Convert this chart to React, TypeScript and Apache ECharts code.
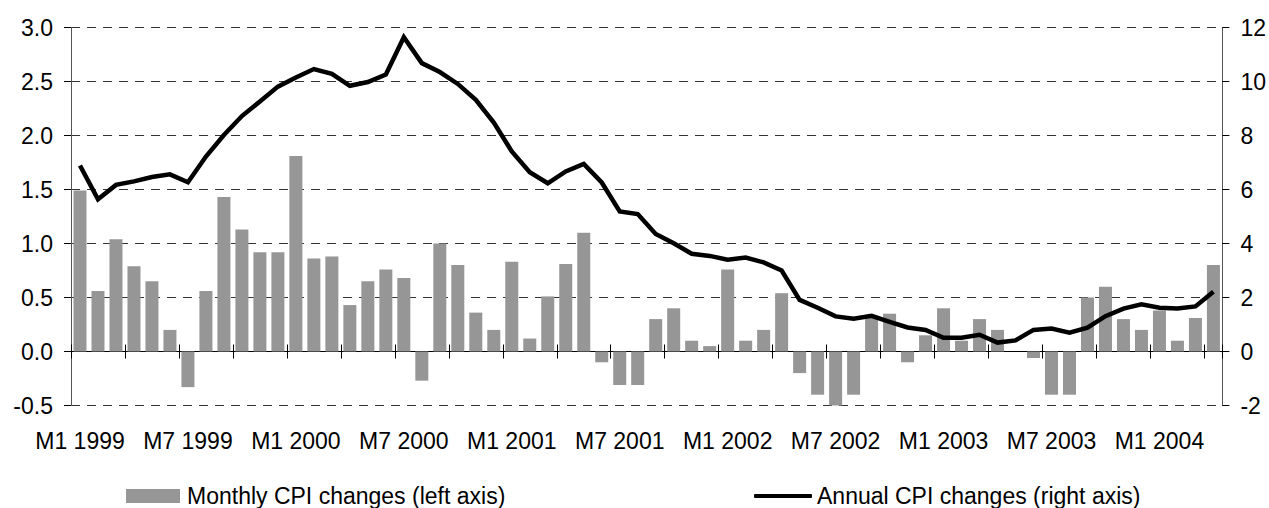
import React, { useEffect, useRef } from "react";
import * as echarts from "echarts";

const months: string[] = [
  "M1 1999", "M2 1999", "M3 1999", "M4 1999", "M5 1999", "M6 1999", "M7 1999", "M8 1999", "M9 1999", "M10 1999", "M11 1999", "M12 1999",
  "M1 2000", "M2 2000", "M3 2000", "M4 2000", "M5 2000", "M6 2000", "M7 2000", "M8 2000", "M9 2000", "M10 2000", "M11 2000", "M12 2000",
  "M1 2001", "M2 2001", "M3 2001", "M4 2001", "M5 2001", "M6 2001", "M7 2001", "M8 2001", "M9 2001", "M10 2001", "M11 2001", "M12 2001",
  "M1 2002", "M2 2002", "M3 2002", "M4 2002", "M5 2002", "M6 2002", "M7 2002", "M8 2002", "M9 2002", "M10 2002", "M11 2002", "M12 2002",
  "M1 2003", "M2 2003", "M3 2003", "M4 2003", "M5 2003", "M6 2003", "M7 2003", "M8 2003", "M9 2003", "M10 2003", "M11 2003", "M12 2003",
  "M1 2004", "M2 2004", "M3 2004", "M4 2004",
];

const monthlyCPI: number[] = [
  1.49, 0.56, 1.04, 0.79, 0.65, 0.2, -0.33, 0.56, 1.43, 1.13, 0.92, 0.92,
  1.81, 0.86, 0.88, 0.43, 0.65, 0.76, 0.68, -0.27, 1.0, 0.8, 0.36, 0.2,
  0.83, 0.12, 0.51, 0.81, 1.1, -0.1, -0.31, -0.31, 0.3, 0.4, 0.1, 0.05,
  0.76, 0.1, 0.2, 0.54, -0.2, -0.4, -0.5, -0.4, 0.33, 0.35, -0.1, 0.15,
  0.4, 0.1, 0.3, 0.2, 0.0, -0.06, -0.4, -0.4, 0.5, 0.6, 0.3, 0.2,
  0.38, 0.1, 0.31, 0.8,
];

const annualCPI: number[] = [
  6.89, 5.64, 6.17, 6.3, 6.46, 6.56, 6.27, 7.22, 8.02, 8.72, 9.26, 9.81,
  10.15, 10.46, 10.28, 9.84, 9.98, 10.26, 11.64, 10.68, 10.35, 9.91, 9.32, 8.48,
  7.41, 6.64, 6.23, 6.67, 6.95, 6.26, 5.19, 5.09, 4.35, 4.01, 3.62, 3.54,
  3.4, 3.48, 3.3, 3.0, 1.91, 1.62, 1.3, 1.21, 1.32, 1.1, 0.89, 0.8,
  0.51, 0.51, 0.62, 0.33, 0.41, 0.8, 0.85, 0.7, 0.88, 1.31, 1.59, 1.75,
  1.62, 1.59, 1.67, 2.21,
];

const seriesNames: string[] = [
  "Monthly CPI changes (left axis)",
  "Annual CPI changes (right axis)",
];

const FONT = "'Liberation Sans', Arial, sans-serif";
const FS = 23;

export default function App() {
  const ref = useRef<HTMLDivElement>(null);

  useEffect(() => {
    if (!ref.current) return;
    const chart = echarts.init(ref.current, undefined, { renderer: "svg" });
    const gridLine = { show: true, lineStyle: { color: "#333", width: 1, type: [9, 7] as any } };
    const hiddenX = {
      type: "category",
      data: months,
      boundaryGap: true,
      axisLabel: { show: false },
      splitLine: { show: false },
    };
    chart.setOption({
      animation: false,
      textStyle: { fontFamily: FONT, color: "#000" },
      grid: { left: 71, right: 46, top: 27.5, bottom: 102.5, containLabel: false },
      legend: [
        {
          data: [seriesNames[0]],
          left: 126,
          top: 484.5,
          padding: 0,
          itemWidth: 54,
          itemHeight: 14,
          icon: "rect",
          textStyle: { fontFamily: FONT, fontSize: FS, color: "#000", padding: [0, 0, 0, 2] },
        },
        {
          data: [seriesNames[1]],
          left: 754,
          top: 484.5,
          padding: 0,
          itemWidth: 58,
          itemHeight: 4,
          icon: "roundRect",
          itemStyle: { color: "#000" },
          textStyle: { fontFamily: FONT, fontSize: FS, color: "#000", padding: [0, 0, 0, 0] },
        },
      ],
      xAxis: [
        {
          type: "category",
          data: months,
          boundaryGap: true,
          position: "bottom",
          axisLine: { show: false, onZero: false },
          axisTick: { show: false },
          axisLabel: {
            interval: (i: number) => i % 6 === 0,
            margin: 24,
            fontFamily: FONT,
            fontSize: FS,
            color: "#000",
            hideOverlap: false,
          },
          splitLine: { show: false },
        },
        {
          ...hiddenX,
          axisLine: { show: true, onZero: true, lineStyle: { color: "#000", width: 1 } },
          axisTick: { show: true, interval: 2, length: 7, inside: false, lineStyle: { color: "#000" } },
        },
        {
          ...hiddenX,
          axisLine: { show: false, onZero: true },
          axisTick: { show: true, interval: 2, length: 7, inside: true, lineStyle: { color: "#000" } },
        },
      ],
      yAxis: [
        {
          type: "value",
          min: -0.5,
          max: 3,
          interval: 0.5,
          position: "left",
          axisLine: { show: true, lineStyle: { color: "#555", width: 1 } },
          axisTick: { show: true, length: 7, lineStyle: { color: "#000" } },
          axisLabel: {
            margin: 18,
            fontFamily: FONT,
            fontSize: FS,
            color: "#000",
            formatter: (v: number) => v.toFixed(1),
          },
          splitLine: gridLine,
        },
        {
          type: "value",
          min: -2,
          max: 12,
          interval: 2,
          position: "right",
          axisLine: { show: true, lineStyle: { color: "#555", width: 1 } },
          axisTick: { show: true, length: 7, lineStyle: { color: "#000" } },
          axisLabel: { margin: 18, fontFamily: FONT, fontSize: FS, color: "#000" },
          splitLine: { show: false },
        },
      ],
      series: [
        {
          name: seriesNames[0],
          type: "bar",
          xAxisIndex: 0,
          yAxisIndex: 0,
          data: monthlyCPI,
          barWidth: 13,
          itemStyle: { color: "#969696" },
        },
        {
          name: seriesNames[1],
          type: "line",
          xAxisIndex: 0,
          yAxisIndex: 1,
          data: annualCPI,
          showSymbol: false,
          symbol: "none",
          lineStyle: { color: "#000", width: 4.5, join: "miter" },
          itemStyle: { color: "#000" },
          z: 5,
        },
      ],
    });
    return () => chart.dispose();
  }, []);

  return (
    <div
      ref={ref}
      style={{ position: "fixed", left: 0, top: 0, width: 1269, height: 508, background: "#fff" }}
    />
  );
}
